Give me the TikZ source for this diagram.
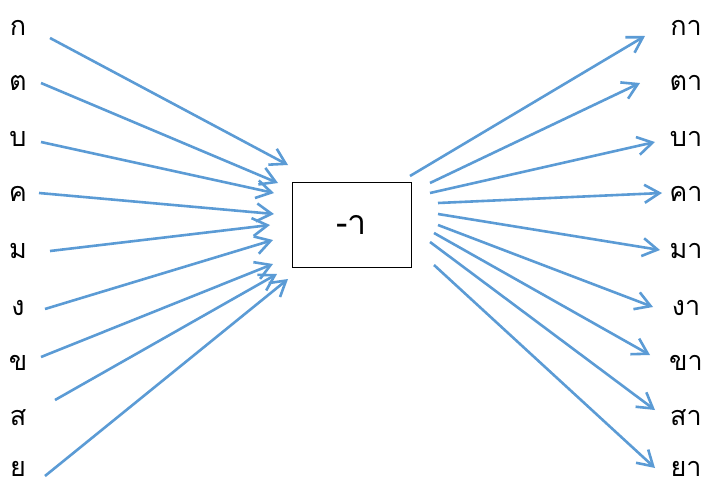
\documentclass[tikz,border=0pt]{standalone}
\usepackage{fontspec}
\newfontfamily\thaifont[Script=Thai]{Loma}
\usetikzlibrary{arrows.meta}
\definecolor{flow}{RGB}{91,155,213}

\begin{document}
\begin{tikzpicture}[
      x=1pt, y=-1pt,
      letter/.style={inner sep=0pt, font=\thaifont\fontsize{27}{27}\selectfont, anchor=base},
      vowel/.style={rectangle, draw=black, line width=0.9pt,
                    minimum width=119pt, minimum height=85pt, inner sep=0pt,
                    font=\thaifont\fontsize{34}{34}\selectfont},
      arr/.style={-{Straight Barb[length=15pt, width=18pt]}, line width=2.6pt, draw=flow}
    ]
    \useasboundingbox (0,0) rectangle (702,482);
    % centre box
    \node[vowel] (box) at (351.5,224.5) {-า};
    % consonants on the left
    \node[letter] (k)  at (18,35)  {ก};
    \node[letter] (t)  at (18,90)  {ต};
    \node[letter] (b)  at (18,146) {บ};
    \node[letter] (kh) at (18,201) {ค};
    \node[letter] (m)  at (18,258) {ม};
    \node[letter] (ng) at (18,315) {ง};
    \node[letter] (kk) at (18,370) {ข};
    \node[letter] (s)  at (18,425) {ส};
    \node[letter] (y)  at (18,476) {ย};
    % syllables on the right
    \node[letter] (ka)  at (686,35)  {กา};
    \node[letter] (ta)  at (686,90)  {ตา};
    \node[letter] (ba)  at (686,146) {บา};
    \node[letter] (kha) at (686,201) {คา};
    \node[letter] (ma)  at (686,258) {มา};
    \node[letter] (nga) at (686,315) {งา};
    \node[letter] (kka) at (686,370) {ขา};
    \node[letter] (sa)  at (686,425) {สา};
    \node[letter] (ya)  at (686,476) {ยา};
    % arrow ends
    \coordinate (k-out)  at (50,38);   \coordinate (k-in)  at (288,165);
    \coordinate (t-out)  at (41,83);   \coordinate (t-in)  at (278,183);
    \coordinate (b-out)  at (41,142);  \coordinate (b-in)  at (274,193);
    \coordinate (kh-out) at (39,193);  \coordinate (kh-in) at (274,214);
    \coordinate (m-out)  at (50,251);  \coordinate (m-in)  at (270,225);
    \coordinate (ng-out) at (45,309);  \coordinate (ng-in) at (273,240);
    \coordinate (kk-out) at (41,357);  \coordinate (kk-in) at (273,264);
    \coordinate (s-out)  at (55,400);  \coordinate (s-in)  at (277,274);
    \coordinate (y-out)  at (45,476);  \coordinate (y-in)  at (288,279);
    \coordinate (ka-out)  at (410,176); \coordinate (ka-in)  at (645,36);
    \coordinate (ta-out)  at (430,183); \coordinate (ta-in)  at (640,83);
    \coordinate (ba-out)  at (430,193); \coordinate (ba-in)  at (655,142);
    \coordinate (kha-out) at (438,203); \coordinate (kha-in) at (662,193);
    \coordinate (ma-out)  at (438,214); \coordinate (ma-in)  at (660,250);
    \coordinate (nga-out) at (438,225); \coordinate (nga-in) at (653,307);
    \coordinate (kka-out) at (434,233); \coordinate (kka-in) at (650,355);
    \coordinate (sa-out)  at (430,242); \coordinate (sa-in)  at (655,410);
    \coordinate (ya-out)  at (434,265); \coordinate (ya-in)  at (655,468);
    % arrows in
    \draw[arr] (k-out) -- (k-in);
    \draw[arr] (t-out) -- (t-in);
    \draw[arr] (b-out) -- (b-in);
    \draw[arr] (kh-out) -- (kh-in);
    \draw[arr] (m-out) -- (m-in);
    \draw[arr] (ng-out) -- (ng-in);
    \draw[arr] (kk-out) -- (kk-in);
    \draw[arr] (s-out) -- (s-in);
    \draw[arr] (y-out) -- (y-in);
    % arrows out
    \draw[arr] (ka-out) -- (ka-in);
    \draw[arr] (ta-out) -- (ta-in);
    \draw[arr] (ba-out) -- (ba-in);
    \draw[arr] (kha-out) -- (kha-in);
    \draw[arr] (ma-out) -- (ma-in);
    \draw[arr] (nga-out) -- (nga-in);
    \draw[arr] (kka-out) -- (kka-in);
    \draw[arr] (sa-out) -- (sa-in);
    \draw[arr] (ya-out) -- (ya-in);
  \end{tikzpicture}
\end{document}
